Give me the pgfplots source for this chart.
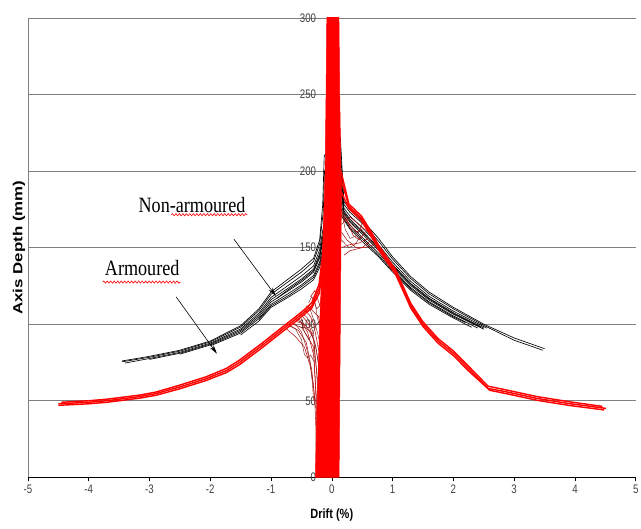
\documentclass[border=0pt]{standalone}
\usepackage{fontspec}
\setmainfont{Liberation Sans}
\newfontfamily\seriffont{Liberation Serif}
\usepackage{pgfplots}
\pgfplotsset{compat=1.18}
\usetikzlibrary{arrows.meta,decorations.pathmorphing}
\definecolor{gridgray}{RGB}{128,128,128}
\definecolor{loopred}{RGB}{185,15,15}
\definecolor{loopdark}{RGB}{130,30,30}
\tikzset{
  blk/.style={black, line width=0.65pt},
  band/.style={red, line width=1.45pt},
  loop/.style={loopred, line width=0.55pt},
  loopd/.style={loopdark, line width=0.45pt},
  squig/.style={red, line width=0.6pt, decorate,
    decoration={snake, amplitude=1.1bp, segment length=3.5bp}},
  note/.style={font=\seriffont\fontsize{22}{24}\selectfont, xscale=0.83, inner sep=0pt},
  pointer/.style={black, line width=0.6pt, -{Stealth[length=9bp, width=4.5bp]}}
}
\begin{document}
\begin{tikzpicture}
\begin{axis}[
  width=610bp, height=461bp, scale only axis,
  xmin=-5, xmax=5, ymin=0, ymax=300,
  axis x line=bottom, axis y line=left,
  axis line style={-},
  x axis line style={black, line width=0.8pt},
  y axis line style={gridgray, line width=0.8pt},
  xtick={-5,...,5}, ytick={0,50,...,300},
  tick align=outside,
  xtick style={black, line width=0.6pt},
  major tick length=4bp,
  ytick style={draw=none},
  ymajorgrids, grid style={gridgray, line width=0.8pt},
  yticklabel shift={-296bp},
  /pgf/number format/assume math mode=true,
  tick label style={font=\fontsize{12.5}{14}\selectfont, text=black!75, xscale=0.78},
  xlabel={Drift (\%)},
  xlabel style={font=\fontsize{13.5}{15}\selectfont\bfseries, xscale=0.82, yshift=-8bp},
  ylabel={Axis Depth (mm)},
  ylabel style={font=\fontsize{17}{19}\selectfont\bfseries, at={(rel axis cs:0,0.5)}, anchor=south, yscale=0.78},
  no markers,
]
\coordinate (ll) at (rel axis cs:0,0);
\coordinate (ur) at (rel axis cs:1,1);
% non-armoured (black)
\addplot[blk] coordinates {(-3.45,76)(-3.0,79)(-2.5,83)(-2.0,89)(-1.5,99)(-1.2,110)(-1.0,121)(-0.7,130)(-0.5,136)(-0.3,143)(-0.2,155)(-0.15,178)(-0.125,210)(0.14,222)(0.2,180)(0.3,175)(0.5,168)(0.77,156)(1.0,144)(1.3,131)(1.6,121)(2.0,111)(2.5,100)(3.0,91)(3.5,84)};
\addplot[blk] coordinates {(-3.45,75.4)(-3.0,78.4)(-2.5,82.4)(-2.0,88.4)(-1.5,98.1)(-1.2,108.8)(-1.0,119.5)(-0.7,128.2)(-0.5,134)(-0.3,141)(-0.2,152.3)(-0.14,173.8)(-0.12,200)(0.14,214.5)(0.2,178.2)(0.3,173)(0.5,165.9)(0.77,154.2)(1.0,142.5)(1.3,129.7)(1.6,119.8)(2.0,110)(2.5,99.2)(3.0,89.5)(3.47,83)};
\addplot[blk] coordinates {(-3.4,74.6)(-3.0,77.6)(-2.5,81.6)(-2.0,87.6)(-1.5,96.9)(-1.2,107.2)(-1.0,117.5)(-0.7,125.8)(-0.5,131.5)(-0.3,138)(-0.2,148.7)(-0.12,168.2)(-0.09,190)(0.14,204.5)(0.2,175.8)(0.3,170.5)(0.5,163.1)(0.77,151.8)(1.0,140.5)(1.3,127.9)(1.6,118.2)(2.0,108.5)(2.55,97.4)};
\addplot[blk] coordinates {(-3.0,77)(-2.5,81)(-2.0,87)(-1.5,96)(-1.2,106)(-1.0,116)(-0.7,124)(-0.5,129.5)(-0.3,136)(-0.2,146)(-0.12,164)(-0.09,183.5)(0.14,197)(0.2,174)(0.3,168.5)(0.5,161)(0.77,150)(1.0,139)(1.3,126.5)(1.6,117)(2.0,107.5)(2.5,97.5)};
\addplot[blk] coordinates {(-2.5,80.4)(-2.0,86.4)(-1.5,95.1)(-1.2,104.8)(-1.0,114.5)(-0.7,122.2)(-0.5,127.5)(-0.3,134)(-0.2,143.3)(-0.12,159.8)(-0.09,177)(0.14,189.5)(0.2,172.2)(0.3,166.5)(0.5,158.9)(0.77,148.2)(1.0,137.5)(1.3,125.2)(1.6,115.8)(2.0,106.5)(2.5,96.7)};
\addplot[blk] coordinates {(-2.0,85.8)(-1.5,94.2)(-1.2,103.6)(-1.0,113)(-0.7,120.4)(-0.5,125.6)(-0.3,131.8)(-0.2,140.6)(-0.12,155.6)(-0.09,170.6)(0.14,182)(0.2,170.4)(0.3,164.6)(0.5,156.8)(0.77,146.4)(1.0,136)(1.3,123.8)(1.6,114.6)(2.0,105.4)(2.4,97.5)};
\addplot[blk] coordinates {(-1.5,93)(-1.2,102)(-1.0,111)(-0.7,118)(-0.5,123)(-0.3,129)(-0.2,137)(-0.12,150)(-0.09,162)(0.14,172)(0.2,168)(0.3,162)(0.5,154)(0.77,144)(1.0,134)(1.3,122)(1.6,113)(2.0,104)(2.3,98)};
\addplot[blk] coordinates {(-1.2,103)(-1.0,112)(-0.7,119)(-0.5,124.5)(-0.3,130.5)(-0.2,139)(-0.12,153)(-0.09,166)(0.14,177)(0.2,169)(0.3,163)(0.5,155.5)(0.77,145)(1.0,135)(1.3,123)(1.6,114)(2.0,104.7)(2.2,101)};
\addplot[blk] coordinates {(-0.9,117)(-0.7,123)(-0.5,128.5)(-0.3,135)(-0.2,144.5)(-0.12,162)(-0.09,180)(0.14,193)(0.2,173)(0.3,167.5)(0.5,160)(0.77,149)(1.0,138.2)(1.3,126)(1.6,116.5)(2.0,107)(2.45,98)};
% armoured: small loops near zero drift
\addplot[loop] coordinates {(-0.55,104)(-0.4,95)(-0.3,80)(-0.25,50)(-0.22,20)(-0.2,0)};
\addplot[loop] coordinates {(-0.5,106)(-0.38,100)(-0.3,90)(-0.25,70)(-0.22,45)(-0.2,30)(-0.17,0)};
\addplot[loop] coordinates {(-0.65,100)(-0.5,98)(-0.4,92)(-0.3,85)(-0.27,60)(-0.25,40)(-0.24,0)};
\addplot[loop] coordinates {(-0.45,110)(-0.35,105)(-0.3,100)(-0.25,90)(-0.2,80)(-0.16,60)};
\addplot[loop] coordinates {(-0.6,102)(-0.45,100)(-0.35,95)(-0.28,88)(-0.22,75)(-0.18,50)};
\addplot[loop] coordinates {(-0.4,112)(-0.3,108)(-0.22,105)(-0.17,95)(-0.14,80)};
\addplot[loop] coordinates {(-0.7,99)(-0.55,96)(-0.42,88)(-0.33,70)(-0.28,50)(-0.26,30)(-0.26,5)};
\addplot[loop] coordinates {(-0.35,118)(-0.28,122)(-0.22,115)(-0.18,110)(-0.14,100)};
\addplot[loop] coordinates {(-0.75,97)(-0.6,92)(-0.45,85)(-0.35,72)(-0.3,60)(-0.27,45)};
\addplot[loopd] coordinates {(-0.62,101)(-0.5,95)(-0.42,85)(-0.36,75)(-0.32,62)(-0.3,50)};
\addplot[loopd] coordinates {(-0.52,105)(-0.44,98)(-0.38,96)(-0.32,92)(-0.26,85)(-0.21,70)(-0.19,40)(-0.18,10)};
\addplot[loopd] coordinates {(-0.48,107)(-0.4,104)(-0.34,98)(-0.3,94)(-0.28,80)(-0.23,62)(-0.21,55)};
\addplot[loopd] coordinates {(-0.68,99)(-0.6,97)(-0.5,90)(-0.45,80)(-0.4,78)(-0.35,80)(-0.3,76)};
\addplot[loopd] coordinates {(-0.42,112)(-0.36,110)(-0.3,103)(-0.26,98)(-0.22,92)(-0.18,85)(-0.15,70)};
\addplot[loopd] coordinates {(-0.58,103)(-0.5,101)(-0.45,95)(-0.38,90)(-0.3,95)(-0.25,100)(-0.2,102)(-0.16,110)};
\addplot[loopd] coordinates {(-0.38,114)(-0.33,118)(-0.27,113)(-0.24,105)(-0.2,98)};
\addplot[loopd] coordinates {(-0.3,116)(-0.25,110)(-0.2,112)(-0.15,120)};
\addplot[loop] coordinates {(0.16,150)(0.3,152)(0.45,153)(0.6,156)};
\addplot[loop] coordinates {(0.16,160)(0.25,155)(0.4,150)(0.55,150)(0.7,152)};
\addplot[loop] coordinates {(0.18,170)(0.3,165)(0.4,160)(0.5,162)};
\addplot[loop] coordinates {(0.15,175)(0.25,168)(0.35,158)(0.45,155)(0.55,160)};
\addplot[loop] coordinates {(0.2,145)(0.3,148)(0.5,150)(0.65,155)};
\addplot[loop] coordinates {(0.15,165)(0.3,170)(0.45,165)(0.6,160)};
\addplot[loopd] coordinates {(0.17,172)(0.22,162)(0.3,156)(0.42,158)(0.5,166)};
\addplot[loopd] coordinates {(0.16,155)(0.28,150)(0.38,152)(0.48,158)};
% armoured: main band
\addplot[band] coordinates {(-4.5,48)(-4.0,49)(-3.7,50)(-3.16,52.7)(-2.9,54.6)(-2.5,59)(-2.07,64.4)(-1.74,69.6)(-1.52,75)(-1.15,86)(-0.8,97)(-0.59,103.5)(-0.45,108)(-0.33,112)(-0.21,123)(-0.15,140)(-0.11,165)};
\addplot[band] coordinates {(-4.45,49)(-4.0,50)(-3.7,51)(-3.16,53.7)(-2.9,55.6)(-2.5,60.2)(-2.07,65.6)(-1.74,71)(-1.52,76.5)(-1.15,87.5)(-0.8,98.5)(-0.59,105)(-0.45,109.5)(-0.33,114)(-0.21,126)(-0.15,146)(-0.11,172)};
\addplot[band] coordinates {(-4.5,47)(-4.0,48)(-3.7,49)(-3.16,51.7)(-2.9,53.5)(-2.5,57.8)(-2.07,63.2)(-1.74,68.3)(-1.52,73.5)(-1.15,84.5)(-0.8,95.5)(-0.59,102)(-0.45,106.5)(-0.33,110.5)(-0.21,120)(-0.15,133)(-0.12,148)};
\addplot[band] coordinates {(0.15,195)(0.28,177)(0.49,169)(0.66,158)(0.77,150)(1.05,134)(1.3,112)(1.5,100)(1.75,89)(2.0,81)(2.25,71)(2.57,58)(2.85,56)(3.39,51.4)(3.93,48)(4.51,45)};
\addplot[band] coordinates {(0.15,200)(0.28,178.5)(0.49,170.5)(0.66,159.5)(0.77,151.5)(1.05,135.5)(1.3,113.5)(1.5,101.5)(1.75,90.5)(2.0,82.5)(2.25,72.5)(2.57,59.5)(2.85,57.2)(3.39,52.6)(3.93,49.2)(4.45,46.3)};
\addplot[band] coordinates {(0.16,186)(0.28,175.5)(0.49,167.5)(0.66,156.5)(0.77,148.5)(1.05,132.5)(1.3,110.5)(1.5,98.5)(1.75,87.5)(2.0,79.5)(2.25,69.5)(2.6,56.8)(2.85,54.8)(3.39,50.2)(3.93,46.8)(4.48,44)};
% armoured: spike at zero drift
\addplot[fill=red, draw=red, line width=0.5pt] coordinates {(-0.27,0)(-0.24,50)(-0.2,100)(-0.15,150)(-0.11,200)(-0.095,250)(-0.08,310)(0.115,310)(0.13,250)(0.15,200)(0.16,185)(0.15,150)(0.14,100)(0.12,0)} -- cycle;
% annotations
\node[note] at (axis cs:-2.30,178) {Non-armoured};
\node[note] at (axis cs:-3.12,136.6) {Armoured};
\draw[squig] (axis cs:-2.64,171.5) -- (axis cs:-1.39,171.5);
\draw[squig] (axis cs:-3.77,127.5) -- (axis cs:-2.48,127.5);
\draw[pointer] (axis cs:-1.61,155.5) -- (axis cs:-0.92,118.4);
\draw[pointer] (axis cs:-2.56,117.8) -- (axis cs:-1.89,80.7);
\end{axis}
\path (ll) ++(-28bp,-51bp) coordinate (padsw);
\path (ur) ++(3bp,18bp) coordinate (padne);
\end{tikzpicture}
\end{document}
